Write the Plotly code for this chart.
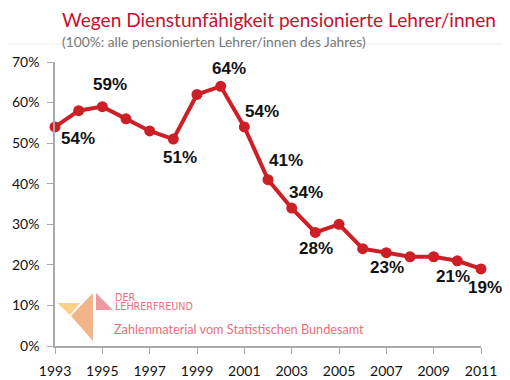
import plotly.graph_objects as go

years = list(range(1993, 2012))
values = [54, 58, 59, 56, 53, 51, 62, 64, 54, 41, 34, 28, 30, 24, 23, 22, 22, 21, 19]
labeled_years = [1993, 1995, 1998, 2000, 2001, 2002, 2003, 2004, 2007, 2010, 2011]
label_offsets = [(23, -12), (8, 22), (7, -18), (8, 18), (18, 15), (18, 19), (14, 16), (1, -16), (1, -15), (-4, -16), (4, -19)]
x_ticks = list(range(1993, 2012, 2))
y_ticks = [0, 10, 20, 30, 40, 50, 60, 70]

RED = "#cc1f26"
PINK = "#e8707a"
OFF = 8  # page body margin
W, H = 510 - OFF, 380 - OFF
L, R, T, B = 55 - OFF, 29, 62 - OFF, 34

fig = go.Figure()
fig.add_trace(go.Scatter(
    x=years, y=values, mode="lines+markers",
    line=dict(color=RED, width=4),
    marker=dict(color=RED, size=11),
    cliponaxis=False, hoverinfo="skip", showlegend=False,
))

annotations = []
for yr, (dx, dy) in zip(labeled_years, label_offsets):
    v = values[years.index(yr)]
    annotations.append(dict(
        x=yr, y=v, xref="x", yref="y", text=f"<b>{v}%</b>", showarrow=False,
        xshift=dx, yshift=dy,
        font=dict(family="Liberation Sans, Arial", size=17, color="#111111"),
    ))

# page pixel coords -> paper coords
def px(x):
    return (x - OFF - L) / (W - L - R)

def py(y):
    return (H - B - (y - OFF)) / (H - T - B)

# Title and subtitle
annotations.append(dict(xref="paper", yref="paper", x=px(60), y=py(20), text="Wegen Dienstunfähigkeit pensionierte Lehrer/innen",
                        showarrow=False, xanchor="left", yanchor="middle",
                        font=dict(family="Lato", size=19.1, color="#c8102e")))
annotations.append(dict(xref="paper", yref="paper", x=px(60), y=py(41), text="(100%: alle pensionierten Lehrer/innen des Jahres)",
                        showarrow=False, xanchor="left", yanchor="middle",
                        font=dict(family="Lato", size=13.8, color="#777777")))
# Logo text
annotations.append(dict(xref="paper", yref="paper", x=px(113), y=py(297), text="DER",
                        showarrow=False, xanchor="left", yanchor="middle",
                        font=dict(family="DejaVu Sans", size=9.6, color=PINK)))
annotations.append(dict(xref="paper", yref="paper", x=px(113), y=py(306), text="LEHRERFREUND",
                        showarrow=False, xanchor="left", yanchor="middle",
                        font=dict(family="DejaVu Sans", size=9.6, color=PINK)))
annotations.append(dict(xref="paper", yref="paper", x=px(112), y=py(329), text="Zahlenmaterial vom Statistischen Bundesamt",
                        showarrow=False, xanchor="left", yanchor="middle",
                        font=dict(family="Lato", size=12.7, color=PINK)))

def path(pts):
    return "M " + " L ".join(f"{px(a)},{py(b)}" for a, b in pts) + " Z"

shapes = [
    dict(type="path", xref="paper", yref="paper", path=path([(57, 303), (80, 303), (70, 315)]),
         fillcolor="#fbd189", line=dict(width=0)),
    dict(type="path", xref="paper", yref="paper", path=path([(93, 293), (93, 341), (71, 316)]),
         fillcolor="#f3b48a", line=dict(width=0)),
    dict(type="path", xref="paper", yref="paper", path=path([(96, 293), (96, 310), (113, 310)]),
         fillcolor="#ef9aa0", line=dict(width=0)),
    dict(type="line", xref="paper", yref="paper", x0=px(0), x1=px(510), y0=py(44), y1=py(44),
         line=dict(color="#eeeeee", width=1)),
]

fig.update_layout(
    width=W, height=H,
    margin=dict(l=L, r=R, t=T, b=B, autoexpand=False),
    paper_bgcolor="white", plot_bgcolor="white",
    annotations=annotations, shapes=shapes,
    xaxis=dict(range=[1993, 2011], tickvals=x_ticks, showgrid=False, zeroline=False,
               automargin=False,
               showline=True, linecolor="#aaaaaa", linewidth=1.5,
               ticks="outside", ticklen=6, tickcolor="#aaaaaa", ticklabelstandoff=5,
               tickfont=dict(family="Lato", size=14, color="#111111")),
    yaxis=dict(range=[0, 70], tickvals=y_ticks, ticktext=[f"{v}%" for v in y_ticks],
               showgrid=False, zeroline=False, automargin=False,
               showline=True, linecolor="#aaaaaa", linewidth=1.5,
               ticks="outside", ticklen=6, tickcolor="#aaaaaa", ticklabelstandoff=5,
               tickfont=dict(family="Lato", size=14, color="#111111")),
)

fig.write_html("out.html")
